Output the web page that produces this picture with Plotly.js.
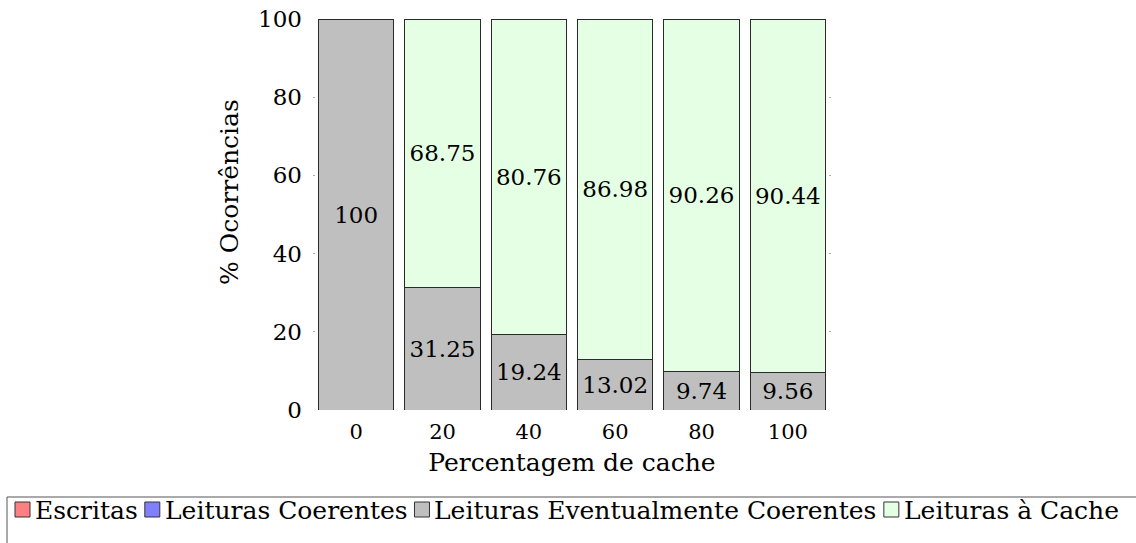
<!DOCTYPE html>
<html>
<head>
<meta charset="utf-8">
<script src="https://cdn.plot.ly/plotly-3.0.1.min.js"></script>
<style>
  html, body { margin: 0; padding: 0; background: #fff; }
  #chart { width: 1136px; height: 543px; }
</style>
</head>
<body>
<div id="chart"></div>
<script>
// Percentagem de cache (x categories)
const categories = ['0', '20', '40', '60', '80', '100'];

// Series (% of occurrences per category)
const seriesNames = ['Escritas', 'Leituras Coerentes', 'Leituras Eventualmente Coerentes', 'Leituras à Cache'];
const escritas = [0, 0, 0, 0, 0, 0];
const leiturasCoerentes = [0, 0, 0, 0, 0, 0];
const leiturasEventuais = [100, 31.25, 19.24, 13.02, 9.74, 9.56];
const leiturasCache = [0, 68.75, 80.76, 86.98, 90.26, 90.44];

// Y axis ticks
const yTicks = [0, 20, 40, 60, 80, 100];

const seriesValues = [escritas, leiturasCoerentes, leiturasEventuais, leiturasCache];
const seriesColors = ['#ff8080', '#8080ff', '#bfbfbf', '#e5ffe5'];

const FONT = 'DejaVu Serif, Liberation Serif, serif';
const W = 1136, H = 543;
const M = { l: 313, r: 305, t: 19, b: 133 };
const plotW = W - M.l - M.r, plotH = H - M.t - M.b;

// pixel -> paper coordinate helpers (used for the boxed legend row under the axis)
const px2x = px => (px - M.l) / plotW;
const py2y = py => (H - M.b - py) / plotH;

const traces = seriesValues.map((vals, i) => ({
  type: 'bar',
  name: seriesNames[i],
  x: categories,
  y: vals,
  text: vals.map(v => (v > 0 ? String(v) : '')),
  textposition: 'inside',
  insidetextanchor: 'middle',
  textangle: 0,
  constraintext: 'none',
  textfont: { family: FONT, size: 23, color: '#000' },
  marker: { color: seriesColors[i], line: { color: '#2a2a2a', width: 1 } },
  showlegend: false,
  hoverinfo: 'skip'
}));

// Legend row: swatch + label for every series, laid out left to right
const LEGEND_FONT_SIZE = 25;
const ctx = document.createElement('canvas').getContext('2d');
ctx.font = LEGEND_FONT_SIZE + 'px "DejaVu Serif"';
const shapes = [{
  type: 'rect', xref: 'paper', yref: 'paper',
  x0: px2x(7), x1: px2x(W + 10), y0: py2y(497), y1: py2y(H + 10),
  line: { color: '#555', width: 1 }, fillcolor: 'rgba(0,0,0,0)', layer: 'above'
}];
const annotations = [{
  text: '% Ocorrências',
  xref: 'paper', yref: 'paper',
  x: px2x(230), y: py2y(192),
  xanchor: 'center', yanchor: 'middle',
  textangle: -90,
  showarrow: false,
  font: { family: FONT, size: 25, color: '#000' }
}];
let cursor = 15;
seriesNames.forEach((name, i) => {
  shapes.push({
    type: 'rect', xref: 'paper', yref: 'paper',
    x0: px2x(cursor), x1: px2x(cursor + 15), y0: py2y(517), y1: py2y(502),
    line: { color: '#333', width: 1 }, fillcolor: seriesColors[i], layer: 'above'
  });
  annotations.push({
    text: name,
    xref: 'paper', yref: 'paper',
    x: px2x(cursor + 18), y: py2y(510),
    xanchor: 'left', yanchor: 'middle',
    showarrow: false,
    font: { family: FONT, size: LEGEND_FONT_SIZE, color: '#000' }
  });
  cursor += 18 + 3 + ctx.measureText(name).width + 6;
});

const layout = {
  width: W,
  height: H,
  barmode: 'stack',
  bargap: 0.13,
  paper_bgcolor: '#fff',
  plot_bgcolor: '#fff',
  margin: { l: M.l, r: M.r, t: M.t, b: M.b, autoexpand: false },
  font: { family: FONT, color: '#000' },
  showlegend: false,
  xaxis: {
    type: 'category',
    range: [-0.5, 5.5],
    showgrid: false,
    zeroline: false,
    showline: false,
    ticks: '',
    ticklabelstandoff: 7,
    tickfont: { family: FONT, size: 21 },
    title: { text: 'Percentagem de cache', font: { family: FONT, size: 25 }, standoff: 10 }
  },
  yaxis: {
    range: [0, 100],
    tickvals: yTicks,
    ticktext: yTicks.map(String),
    showgrid: false,
    zeroline: false,
    showline: false,
    ticks: 'inside',
    ticklen: 2,
    tickwidth: 1,
    tickcolor: '#aaa',
    mirror: 'ticks',
    ticklabelstandoff: 10,
    tickfont: { family: FONT, size: 23 }
  },
  shapes: shapes,
  annotations: annotations
};

Plotly.newPlot('chart', traces, layout, { staticPlot: true, displayModeBar: false });
</script>
</body>
</html>
